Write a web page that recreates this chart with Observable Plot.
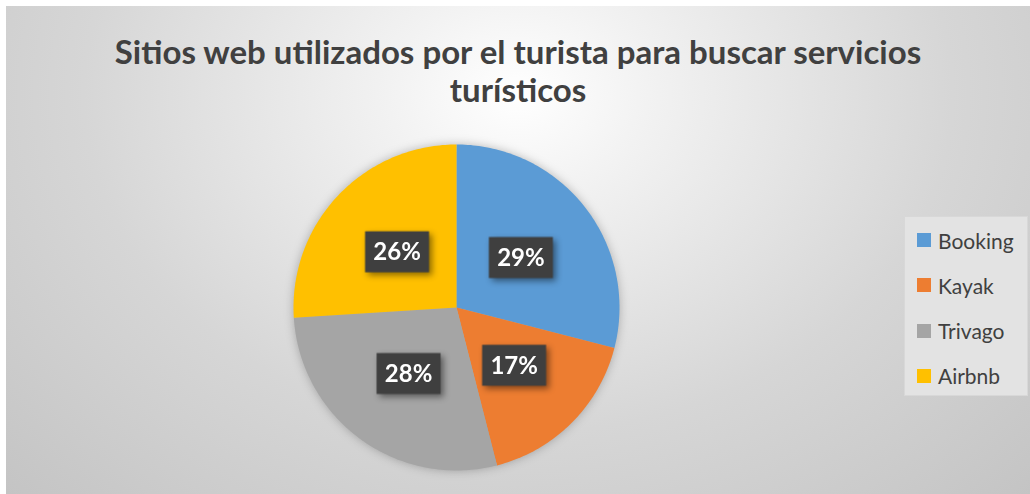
<!DOCTYPE html>
<html>
<head>
<meta charset="utf-8">
<script src="https://cdn.jsdelivr.net/npm/d3@7"></script>
<script src="https://cdn.jsdelivr.net/npm/@observablehq/plot@0.6"></script>
<style>
  html, body { margin: 0; padding: 0; background: #ffffff; }
  #frame {
    position: absolute; left: 6px; top: 6px; width: 1024px; height: 488px;
    background: radial-gradient(ellipse farthest-corner at 50% 18%, #ffffff 0%, #f2f2f2 18%, #d6d6d6 60%, #c4c4c4 100%);
    overflow: hidden;
  }
  #title {
    position: absolute; left: 0; top: 0; width: 1024px; height: 112px;
    font-family: Lato, "Open Sans", sans-serif; font-weight: bold; font-size: 33px;
    color: #404040; text-align: center; line-height: 38px; padding-top: 26px; box-sizing: border-box;
  }
  #chart { position: absolute; left: 0; top: 112px; }
  #legend {
    position: absolute; left: 898px; top: 210px; width: 124px; height: 180px;
    background: #e3e3e3; border: 1px solid #d8d8d8; box-sizing: border-box;
    font-family: Lato, "Open Sans", sans-serif; font-size: 21px; color: #404040;
  }
  .item { position: absolute; left: 12px; height: 24px; display: flex; align-items: center; }
  .sw { width: 14px; height: 14px; margin-right: 7px; }
  #chart g[aria-label="line"] { filter: drop-shadow(0 0 5px rgba(0,0,0,0.25)); }
  #chart g[aria-label="dot"] { filter: drop-shadow(3px 3px 3px rgba(0,0,0,0.45)); }
</style>
</head>
<body>
<div id="frame">
  <div id="title"></div>
  <div id="chart"></div>
  <div id="legend"></div>
</div>
<script>
const titleLines = ["Sitios web utilizados por el turista para buscar servicios", "turísticos"];
const categories = ["Booking", "Kayak", "Trivago", "Airbnb"];
const values = [29, 17, 28, 26];
const colors = ["#5B9BD5", "#ED7D31", "#A5A5A5", "#FFC000"];

document.getElementById("title").innerHTML = titleLines.join("<br>");

const total = d3.sum(values);
const pie = d3.pie().sort(null).value(d => d.value)(categories.map((c, i) => ({cat: c, value: values[i]})));

// slice outlines in unit-circle coordinates, computed from the data angles
const slicePts = [];
for (const p of pie) {
  const cat = p.data.cat;
  slicePts.push({cat, x: 0, y: 0});
  const n = Math.max(2, Math.ceil((p.endAngle - p.startAngle) / (Math.PI / 180)));
  for (let k = 0; k <= n; k++) {
    const a = p.startAngle + (p.endAngle - p.startAngle) * k / n;
    slicePts.push({cat, x: Math.sin(a), y: Math.cos(a)});
  }
}
const labels = pie.map(p => {
  const a = (p.startAngle + p.endAngle) / 2;
  return {cat: p.data.cat, x: 0.5 * Math.sin(a), y: 0.5 * Math.cos(a), text: Math.round(p.data.value / total * 100) + "%"};
});

const boxSymbol = { draw(ctx) { ctx.rect(-32, -20.5, 64, 41); } };

const plot = Plot.plot({
  width: 1024, height: 376,
  marginLeft: 287, marginRight: 411, marginTop: 26, marginBottom: 24,
  x: {domain: [-1, 1], axis: null},
  y: {domain: [-1, 1], axis: null},
  color: {domain: categories, range: colors},
  style: {background: "transparent", overflow: "visible"},
  marks: [
    Plot.line(slicePts, {x: "x", y: "y", z: "cat", fill: "cat", curve: "linear-closed"}),
    Plot.dot(labels, {x: "x", y: "y", symbol: boxSymbol, fill: "#3f3f3f", r: 10}),
    Plot.text(labels, {x: "x", y: "y", text: "text", fill: "white", fontSize: 24, fontWeight: "bold", fontFamily: "Lato, 'Open Sans', sans-serif", dy: 1})
  ]
});
document.getElementById("chart").appendChild(plot);

const legend = document.getElementById("legend");
categories.forEach((c, i) => {
  const it = document.createElement("div");
  it.className = "item";
  it.style.top = (11 + i * 45.3) + "px";
  it.innerHTML = `<div class="sw" style="background:${colors[i]}"></div><span>${c}</span>`;
  legend.appendChild(it);
});
</script>
</body>
</html>
